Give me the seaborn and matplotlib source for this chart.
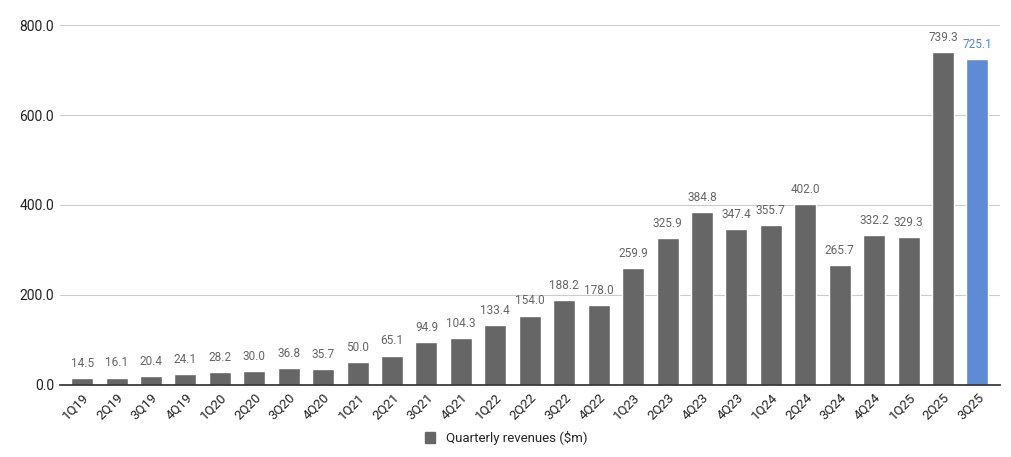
import matplotlib
matplotlib.use("Agg")
import matplotlib.pyplot as plt
import seaborn as sns
import pandas as pd
from matplotlib.patches import Patch

quarters = ["1Q19", "2Q19", "3Q19", "4Q19", "1Q20", "2Q20", "3Q20", "4Q20",
            "1Q21", "2Q21", "3Q21", "4Q21", "1Q22", "2Q22", "3Q22", "4Q22",
            "1Q23", "2Q23", "3Q23", "4Q23", "1Q24", "2Q24", "3Q24", "4Q24",
            "1Q25", "2Q25", "3Q25"]
revenues = [14.5, 16.1, 20.4, 24.1, 28.2, 30.0, 36.8, 35.7, 50.0, 65.1, 94.9,
            104.3, 133.4, 154.0, 188.2, 178.0, 259.9, 325.9, 384.8, 347.4,
            355.7, 402.0, 265.7, 332.2, 329.3, 739.3, 725.1]
# x-axis labels in the source are shifted: 4Q23 label sits under 384.8 etc.
tick_labels = ["1Q19", "2Q19", "3Q19", "4Q19", "1Q20", "2Q20", "3Q20", "4Q20",
               "1Q21", "2Q21", "3Q21", "4Q21", "1Q22", "2Q22", "3Q22", "4Q22",
               "1Q23", "2Q23", "4Q23", "4Q23", "1Q24", "2Q24", "3Q24", "4Q24",
               "1Q25", "2Q25", "3Q25"]

GREY = "#666666"
BLUE = "#4a86e8"

df = pd.DataFrame({"quarter": quarters, "revenue": revenues})
colors = [GREY] * (len(quarters) - 1) + [BLUE]

sns.set_theme(style="white")
plt.rcParams["font.family"] = ["Roboto", "DejaVu Sans"]

fig = plt.figure(figsize=(10.12, 4.57), dpi=100)
ax = fig.add_axes([0.059, 0.158, 0.929, 0.787])
sns.barplot(data=df, x="quarter", y="revenue", hue="quarter", palette=colors,
            legend=False, width=0.64, ax=ax)

for i, v in enumerate(revenues):
    ax.text(i, v + 18, f"{v:.1f}", ha="center", va="bottom", fontsize=8.5,
            color=colors[i])

ax.set_ylim(0, 800)
ax.set_yticks([0, 200, 400, 600, 800])
ax.set_yticklabels([f"{t:.1f}" for t in [0, 200, 400, 600, 800]], fontsize=10, color="#222222")
ax.yaxis.grid(True, color="#cccccc", linewidth=0.8)
ax.set_axisbelow(True)
ax.set_xlim(-0.65, len(quarters) - 0.35)
ax.set_xticks(range(len(quarters)))
ax.set_xticklabels(tick_labels, rotation=45, ha="right", rotation_mode="anchor",
                   fontsize=9.5, color="#222222")
ax.tick_params(axis="both", length=0, pad=4)
ax.set_xlabel("")
ax.set_ylabel("")
for s in ["top", "right", "left"]:
    ax.spines[s].set_visible(False)
ax.spines["bottom"].set_color("#333333")

fig.legend(handles=[Patch(color=GREY, label="Quarterly revenues ($m)")],
           loc="lower center", bbox_to_anchor=(0.5, 0.0), frameon=False,
           fontsize=9.5, handlelength=0.8, handleheight=0.8)

fig.savefig("out.png", dpi=100)
